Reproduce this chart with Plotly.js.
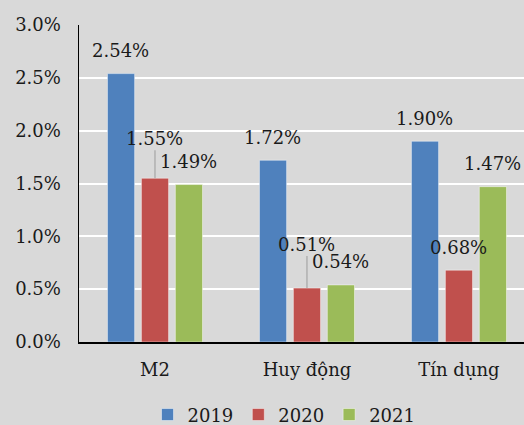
<!DOCTYPE html>
<html>
<head>
<meta charset="utf-8">
<script src="https://cdn.plot.ly/plotly-3.0.1.min.js"></script>
<style>
html,body{margin:0;padding:0;background:#d9d9d9;}
#chart{width:524px;height:425px;}
</style>
</head>
<body>
<div id="chart"></div>
<script>
const categories = ["M2", "Huy động", "Tín dụng"];
const years = ["2019", "2020", "2021"];
const v2019 = [2.54, 1.72, 1.90];
const v2020 = [1.55, 0.51, 0.68];
const v2021 = [1.49, 0.54, 1.47];
const colors = ["#4f81bd", "#c0504d", "#9bbb59"];
const series = [v2019, v2020, v2021];
// which labels use a leader line (series index, category index) -> extra lift
const leader = {"1-0": 40, "1-1": 44};

const FONT = "DejaVu Serif, serif";
const TXT = "#1a1a1a";
const traces = series.map((vals, i) => ({
  type: "bar",
  name: years[i],
  x: categories,
  y: vals,
  marker: {color: colors[i], line: {color: "rgba(255,255,255,0.45)", width: 1}},
  hoverinfo: "skip"
}));

const offsets = [-34, 0, 34];
const annotations = [];
series.forEach((vals, i) => {
  vals.forEach((v, j) => {
    const key = i + "-" + j;
    const txt = v.toFixed(2) + "%";
    if (leader[key]) {
      annotations.push({
        x: categories[j], y: v, xref: "x", yref: "y", text: txt,
        xshift: offsets[i], showarrow: true, arrowhead: 0, arrowwidth: 1.2,
        arrowcolor: "#a6a6a6", ax: 0, ay: -leader[key], axref: "pixel", ayref: "pixel",
        font: {family: FONT, size: 18, color: TXT}
      });
    } else {
      annotations.push({
        x: categories[j], y: v, xref: "x", yref: "y", text: txt,
        xshift: offsets[i], yshift: 23, showarrow: false, yanchor: "middle",
        font: {family: FONT, size: 18, color: TXT}
      });
    }
  });
});

const layout = {
  width: 524, height: 425,
  paper_bgcolor: "#d9d9d9", plot_bgcolor: "#d9d9d9",
  margin: {l: 79, r: 0, t: 25, b: 83, pad: 0, autoexpand: false},
  font: {family: FONT, size: 18, color: TXT},
  barmode: "group", bargap: 0.33, bargroupgap: 0.2,
  showlegend: true,
  legend: {orientation: "h", x: 0.542, xref: "container", xanchor: "center",
           y: 0.024, yref: "container", yanchor: "middle",
           font: {family: FONT, size: 18, color: TXT}, bgcolor: "rgba(0,0,0,0)",
           traceorder: "normal", itemwidth: 30},
  xaxis: {type: "category", range: [-0.5, 2.428], showgrid: false, showline: true,
          linecolor: "#000", linewidth: 1.5, ticks: "", ticklabelstandoff: 11,
          automargin: false,
          tickfont: {family: FONT, size: 18, color: TXT}, fixedrange: true},
  yaxis: {range: [0, 3.0], dtick: 0.5, tickformat: ".1f", ticksuffix: "%",
          showgrid: true, gridcolor: "#ffffff", gridwidth: 2, zeroline: false,
          showline: true, linecolor: "#000", linewidth: 1.5, ticks: "",
          automargin: false,
          ticklabelstandoff: 13, tickfont: {family: FONT, size: 18, color: TXT},
          fixedrange: true},
  annotations: annotations
};

Plotly.newPlot("chart", traces, layout, {displayModeBar: false, staticPlot: true});
</script>
</body>
</html>
